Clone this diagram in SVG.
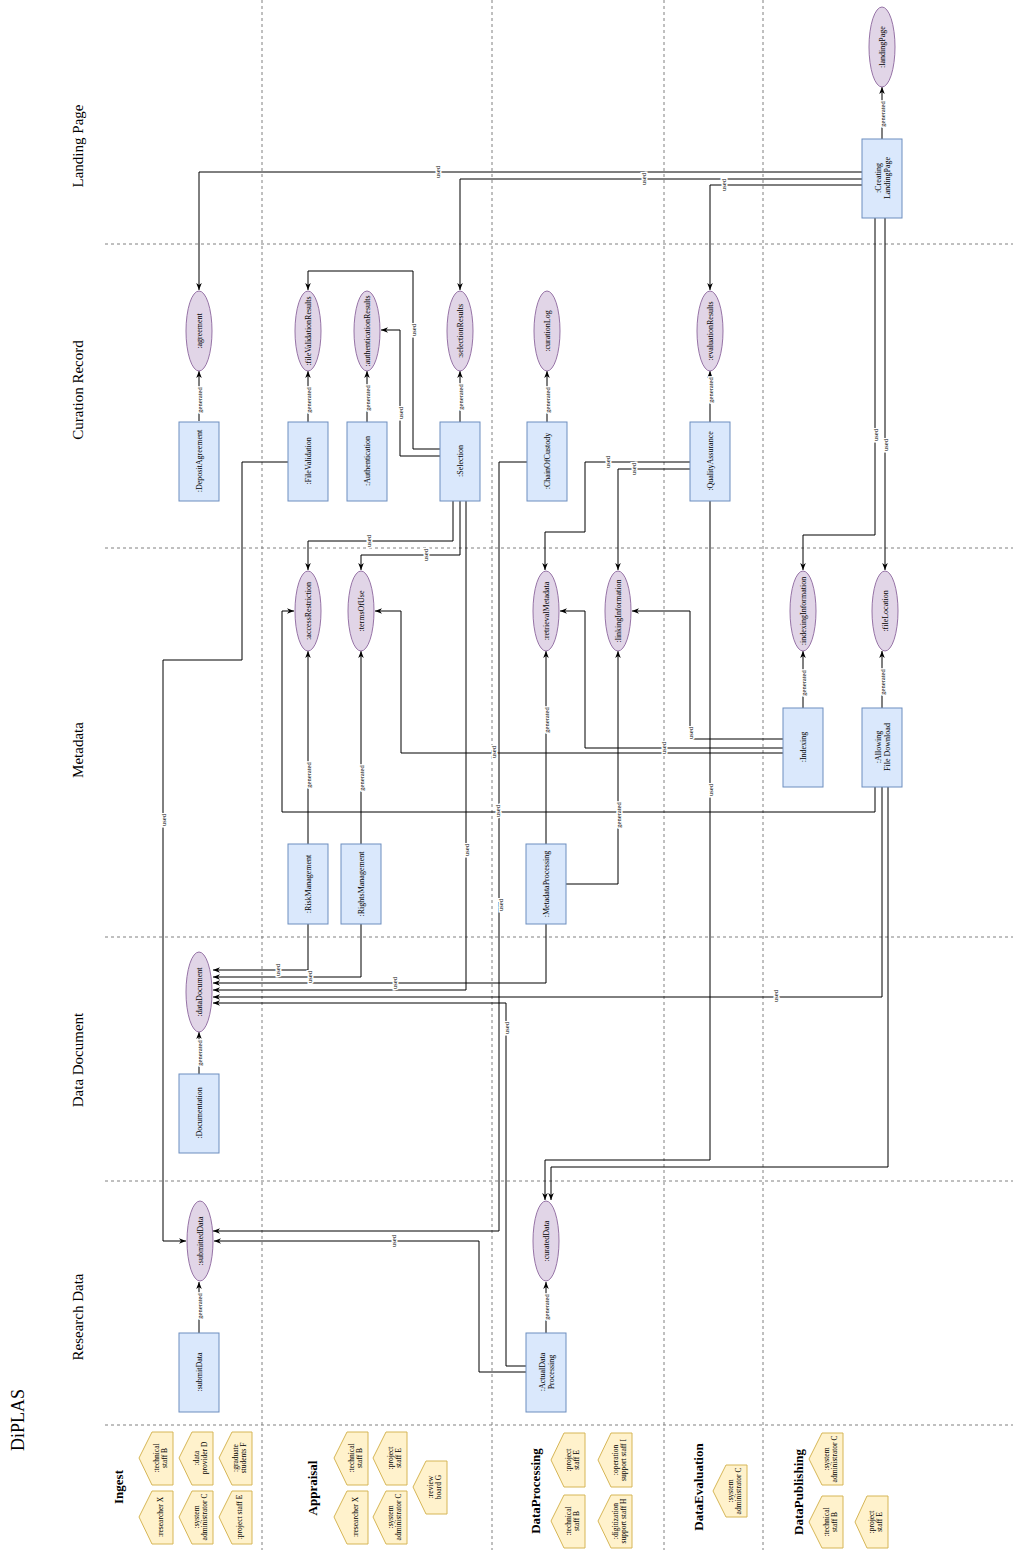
<svg xmlns="http://www.w3.org/2000/svg" width="1013" height="1550" viewBox="0 0 1013 1550">
<style>
text{font-family:"Liberation Serif","Times New Roman",serif;fill:#000}
.sep{stroke:#808080;stroke-width:1;stroke-dasharray:3 3;fill:none}
.proc rect{fill:#dae8fc;stroke:#6c8ebf;stroke-width:1}
.ent ellipse{fill:#e1d5e7;stroke:#9673a6;stroke-width:1}
.act polygon{fill:#fff2cc;stroke:#d6b656;stroke-width:1}
.nt{font-size:8px;text-anchor:middle;dominant-baseline:central}
.at{font-size:7.5px;text-anchor:middle;dominant-baseline:central}
.lane{font-size:15px;text-anchor:middle;dominant-baseline:central}
.role{font-size:13px;font-weight:bold;text-anchor:middle;dominant-baseline:central}
.e{fill:none;stroke:#000;stroke-width:1;marker-end:url(#arr)}
.el{font-size:6.5px;text-anchor:middle;dominant-baseline:central;paint-order:stroke;stroke:#fff;stroke-width:3px}
</style>
<defs>
<marker id="arr" viewBox="0 0 10 10" refX="10" refY="5" markerWidth="7" markerHeight="7" markerUnits="userSpaceOnUse" orient="auto">
<path d="M0,1 L10,5 L0,9 L3,5 z" fill="#000"/>
</marker>
</defs>
<rect width="1013" height="1550" fill="#fff"/>

<g id="separators">
<line class="sep" x1="262" y1="0" x2="262" y2="1550"/>
<line class="sep" x1="492" y1="0" x2="492" y2="1550"/>
<line class="sep" x1="664" y1="0" x2="664" y2="1550"/>
<line class="sep" x1="763" y1="0" x2="763" y2="1550"/>
<line class="sep" x1="105" y1="244" x2="1013" y2="244"/>
<line class="sep" x1="105" y1="548" x2="1013" y2="548"/>
<line class="sep" x1="105" y1="937" x2="1013" y2="937"/>
<line class="sep" x1="105" y1="1181" x2="1013" y2="1181"/>
<line class="sep" x1="105" y1="1425" x2="1013" y2="1425"/>
</g>

<g id="labels">
<text class="lane" transform="translate(18 1420) rotate(-90)" style="font-size:18px">DiPLAS</text>
<text class="lane" transform="translate(78 146) rotate(-90)">Landing Page</text>
<text class="lane" transform="translate(78 390) rotate(-90)">Curation Record</text>
<text class="lane" transform="translate(78 750) rotate(-90)">Metadata</text>
<text class="lane" transform="translate(78 1060) rotate(-90)">Data Document</text>
<text class="lane" transform="translate(78 1317) rotate(-90)">Research Data</text>
<text class="role" transform="translate(118 1487) rotate(-90)">Ingest</text>
<text class="role" transform="translate(312 1488) rotate(-90)">Appraisal</text>
<text class="role" transform="translate(535 1491) rotate(-90)">DataProcessing</text>
<text class="role" transform="translate(698 1487) rotate(-90)">DataEvaluation</text>
<text class="role" transform="translate(798 1492) rotate(-90)">DataPublishing</text>
</g>

<g id="connectors">
<!-- generated -->
<polyline class="e" points="199,421 199,371"/>
<polyline class="e" points="308,422 308,371"/>
<polyline class="e" points="367,422 367,371"/>
<polyline class="e" points="460,422 460,371"/>
<polyline class="e" points="547,422 547,371"/>
<polyline class="e" points="710,422 710,371"/>
<polyline class="e" points="882,139 882,87"/>
<polyline class="e" points="308,844 308,651"/>
<polyline class="e" points="361,844 361,651"/>
<polyline class="e" points="546,844 546,651"/>
<polyline class="e" points="566,884 618,884 618,651"/>
<polyline class="e" points="803,708 803,651"/>
<polyline class="e" points="882,708 882,651"/>
<polyline class="e" points="199,1074 199,1032"/>
<polyline class="e" points="199,1333 199,1282"/>
<polyline class="e" points="546,1333 546,1282"/>
<!-- used -->
<polyline class="e" points="862,172 199,172 199,290"/>
<polyline class="e" points="862,179 460,179 460,290"/>
<polyline class="e" points="862,185 710,185 710,290"/>
<polyline class="e" points="875,218 875,535 803,535 803,570"/>
<polyline class="e" points="885,218 885,570"/>
<polyline class="e" points="440,449 413,449 413,271 308,271 308,290"/>
<polyline class="e" points="440,456 400,456 400,330 381,330"/>
<polyline class="e" points="453,501 453,541 308,541 308,570"/>
<polyline class="e" points="460,501 460,555 361,555 361,570"/>
<polyline class="e" points="466,501 466,990 213,990"/>
<polyline class="e" points="288,462 242,462 242,660 163,660 163,1241 186,1241"/>
<polyline class="e" points="527,462 499,462 499,1231 213,1231"/>
<polyline class="e" points="690,462 585,462 585,532 545,532 545,570"/>
<polyline class="e" points="690,469 618,469 618,570"/>
<polyline class="e" points="710,501 710,1160 545,1160 545,1200"/>
<polyline class="e" points="783,739 690,739 690,611 632,611"/>
<polyline class="e" points="783,748 585,748 585,611 560,611"/>
<polyline class="e" points="783,753 401,753 401,611 375,611"/>
<polyline class="e" points="875,787 875,812 282,812 282,611 294,611"/>
<polyline class="e" points="882,787 882,997 213,997"/>
<polyline class="e" points="888,787 888,1167 551,1167 551,1200"/>
<polyline class="e" points="308,924 308,970 213,970"/>
<polyline class="e" points="361,924 361,977 213,977"/>
<polyline class="e" points="546,924 546,983 213,983"/>
<polyline class="e" points="526,1366 506,1366 506,1003 213,1003"/>
<polyline class="e" points="526,1372 479,1372 479,1241 214,1241"/>
<!-- edge labels -->
<text class="el" transform="translate(199 400) rotate(-90)">generated</text>
<text class="el" transform="translate(308 400) rotate(-90)">generated</text>
<text class="el" transform="translate(367 398) rotate(-90)">generated</text>
<text class="el" transform="translate(460 397) rotate(-90)">generated</text>
<text class="el" transform="translate(547 400) rotate(-90)">generated</text>
<text class="el" transform="translate(710 390) rotate(-90)">generated</text>
<text class="el" transform="translate(882 114) rotate(-90)">generated</text>
<text class="el" transform="translate(308 775) rotate(-90)">generated</text>
<text class="el" transform="translate(361 778) rotate(-90)">generated</text>
<text class="el" transform="translate(546 720) rotate(-90)">generated</text>
<text class="el" transform="translate(618 815) rotate(-90)">generated</text>
<text class="el" transform="translate(803 683) rotate(-90)">generated</text>
<text class="el" transform="translate(882 682) rotate(-90)">generated</text>
<text class="el" transform="translate(199 1053) rotate(-90)">generated</text>
<text class="el" transform="translate(199 1306) rotate(-90)">generated</text>
<text class="el" transform="translate(546 1307) rotate(-90)">generated</text>
<text class="el" transform="translate(437 172) rotate(-90)">used</text>
<text class="el" transform="translate(643 179) rotate(-90)">used</text>
<text class="el" transform="translate(723 185) rotate(-90)">used</text>
<text class="el" transform="translate(875 435) rotate(-90)">used</text>
<text class="el" transform="translate(885 445) rotate(-90)">used</text>
<text class="el" transform="translate(413 330) rotate(-90)">used</text>
<text class="el" transform="translate(400 413) rotate(-90)">used</text>
<text class="el" transform="translate(368 541) rotate(-90)">used</text>
<text class="el" transform="translate(425 555) rotate(-90)">used</text>
<text class="el" transform="translate(466 850) rotate(-90)">used</text>
<text class="el" transform="translate(163 820) rotate(-90)">used</text>
<text class="el" transform="translate(500 905) rotate(-90)">used</text>
<text class="el" transform="translate(607 462) rotate(-90)">used</text>
<text class="el" transform="translate(633 469) rotate(-90)">used</text>
<text class="el" transform="translate(710 790) rotate(-90)">used</text>
<text class="el" transform="translate(690 733) rotate(-90)">used</text>
<text class="el" transform="translate(663 748) rotate(-90)">used</text>
<text class="el" transform="translate(493 752) rotate(-90)">used</text>
<text class="el" transform="translate(497 811) rotate(-90)">used</text>
<text class="el" transform="translate(775 996) rotate(-90)">used</text>
<text class="el" transform="translate(277 970) rotate(-90)">used</text>
<text class="el" transform="translate(309 977) rotate(-90)">used</text>
<text class="el" transform="translate(394 983) rotate(-90)">used</text>
<text class="el" transform="translate(506 1028) rotate(-90)">used</text>
<text class="el" transform="translate(393 1241) rotate(-90)">used</text>
</g>

<!-- process nodes -->
<g id="DepositAgreement" class="proc"><rect x="179" y="422" width="40" height="79"/><text class="nt" transform="translate(199 461) rotate(-90)">:DepositAgreement</text></g>
<g id="FileValidation" class="proc"><rect x="288" y="422" width="40" height="79"/><text class="nt" transform="translate(308 461) rotate(-90)">:FileValidation</text></g>
<g id="Authentication" class="proc"><rect x="347" y="422" width="40" height="79"/><text class="nt" transform="translate(367 461) rotate(-90)">:Authentication</text></g>
<g id="Selection" class="proc"><rect x="440" y="422" width="40" height="79"/><text class="nt" transform="translate(460 461) rotate(-90)">:Selection</text></g>
<g id="ChainOfCustody" class="proc"><rect x="527" y="422" width="40" height="79"/><text class="nt" transform="translate(547 461) rotate(-90)">:ChainOfCustody</text></g>
<g id="QualityAssurance" class="proc"><rect x="690" y="422" width="40" height="79"/><text class="nt" transform="translate(710 461) rotate(-90)">:QualityAssurance</text></g>
<g id="CreatingLandingPage" class="proc"><rect x="862" y="139" width="40" height="79"/><text class="nt" transform="translate(882 178) rotate(-90)"><tspan x="0" dy="-4.5">:Creating</tspan><tspan x="0" dy="9">LandingPage</tspan></text></g>
<g id="RiskManagement" class="proc"><rect x="288" y="844" width="40" height="80"/><text class="nt" transform="translate(308 884) rotate(-90)">:RiskManagement</text></g>
<g id="RightsManagement" class="proc"><rect x="341" y="844" width="40" height="80"/><text class="nt" transform="translate(361 884) rotate(-90)">:RightsManagement</text></g>
<g id="MetadataProcessing" class="proc"><rect x="526" y="844" width="40" height="80"/><text class="nt" transform="translate(546 884) rotate(-90)">:MetadataProcessing</text></g>
<g id="Indexing" class="proc"><rect x="783" y="708" width="40" height="79"/><text class="nt" transform="translate(803 747) rotate(-90)">:Indexing</text></g>
<g id="AllowingFileDownload" class="proc"><rect x="862" y="708" width="40" height="79"/><text class="nt" transform="translate(882 747) rotate(-90)"><tspan x="0" dy="-4.5">:Allowing</tspan><tspan x="0" dy="9">File Download</tspan></text></g>
<g id="Documentation" class="proc"><rect x="179" y="1074" width="40" height="79"/><text class="nt" transform="translate(199 1113) rotate(-90)">:Documentation</text></g>
<g id="submitData" class="proc"><rect x="179" y="1333" width="40" height="79"/><text class="nt" transform="translate(199 1372) rotate(-90)">:submitData</text></g>
<g id="ActualDataProcessing" class="proc"><rect x="526" y="1333" width="40" height="79"/><text class="nt" transform="translate(546 1372) rotate(-90)"><tspan x="0" dy="-4.5">:ActualData</tspan><tspan x="0" dy="9">Processing</tspan></text></g>

<!-- entity nodes -->
<g id="agreement" class="ent"><ellipse cx="199" cy="331" rx="13" ry="40"/><text class="nt" transform="translate(199 331) rotate(-90)">:agreement</text></g>
<g id="fileValidationResults" class="ent"><ellipse cx="308" cy="331" rx="13" ry="40"/><text class="nt" transform="translate(308 331) rotate(-90)">:fileValidationResults</text></g>
<g id="authenticationResults" class="ent"><ellipse cx="367" cy="331" rx="13" ry="40"/><text class="nt" transform="translate(367 331) rotate(-90)">:authenticationResults</text></g>
<g id="selectionResults" class="ent"><ellipse cx="460" cy="331" rx="13" ry="40"/><text class="nt" transform="translate(460 331) rotate(-90)">:selectionResults</text></g>
<g id="curationLog" class="ent"><ellipse cx="547" cy="331" rx="13" ry="40"/><text class="nt" transform="translate(547 331) rotate(-90)">:curationLog</text></g>
<g id="evaluationResults" class="ent"><ellipse cx="710" cy="331" rx="13" ry="40"/><text class="nt" transform="translate(710 331) rotate(-90)">:evaluationResults</text></g>
<g id="landingPage" class="ent"><ellipse cx="882" cy="47" rx="13" ry="40"/><text class="nt" transform="translate(882 47) rotate(-90)">:landingPage</text></g>
<g id="accessRestriction" class="ent"><ellipse cx="308" cy="611" rx="13" ry="40"/><text class="nt" transform="translate(308 611) rotate(-90)">:accessRestriction</text></g>
<g id="termsOfUse" class="ent"><ellipse cx="361" cy="611" rx="13" ry="40"/><text class="nt" transform="translate(361 611) rotate(-90)">:termsOfUse</text></g>
<g id="retrievalMetadata" class="ent"><ellipse cx="546" cy="611" rx="13" ry="40"/><text class="nt" transform="translate(546 611) rotate(-90)">:retrievalMetadata</text></g>
<g id="linkingInformation" class="ent"><ellipse cx="618" cy="611" rx="13" ry="40"/><text class="nt" transform="translate(618 611) rotate(-90)">:linkingInformation</text></g>
<g id="indexingInformation" class="ent"><ellipse cx="803" cy="611" rx="13" ry="40"/><text class="nt" transform="translate(803 611) rotate(-90)">:indexingInformation</text></g>
<g id="fileLocation" class="ent"><ellipse cx="885" cy="611" rx="13" ry="40"/><text class="nt" transform="translate(885 611) rotate(-90)">:fileLocation</text></g>
<g id="dataDocument" class="ent"><ellipse cx="199" cy="992" rx="13" ry="40"/><text class="nt" transform="translate(199 992) rotate(-90)">:dataDocument</text></g>
<g id="submittedData" class="ent"><ellipse cx="200" cy="1241" rx="13" ry="40"/><text class="nt" transform="translate(200 1241) rotate(-90)">:submittedData</text></g>
<g id="curatedData" class="ent"><ellipse cx="546" cy="1241" rx="13" ry="40"/><text class="nt" transform="translate(546 1241) rotate(-90)">:curatedData</text></g>

<!-- actors -->
<g id="ing_technical" class="act"><polygon points="173,1432 152,1432 139,1458 152,1485 173,1485"/><text class="at" transform="translate(160 1458) rotate(-90)"><tspan x="0" dy="-4">:technical</tspan><tspan x="0" dy="8">staff B</tspan></text></g>
<g id="ing_data" class="act"><polygon points="213,1432 192,1432 179,1458 192,1485 213,1485"/><text class="at" transform="translate(200 1458) rotate(-90)"><tspan x="0" dy="-4">:data</tspan><tspan x="0" dy="8">provider D</tspan></text></g>
<g id="ing_graduate" class="act"><polygon points="252,1432 232,1432 219,1458 232,1485 252,1485"/><text class="at" transform="translate(239 1458) rotate(-90)"><tspan x="0" dy="-4">:graduate</tspan><tspan x="0" dy="8">students F</tspan></text></g>
<g id="ing_researcher" class="act"><polygon points="173,1491 152,1491 139,1517 152,1544 173,1544"/><text class="at" transform="translate(160 1517) rotate(-90)">:researcher X</text></g>
<g id="ing_system" class="act"><polygon points="213,1491 192,1491 179,1517 192,1544 213,1544"/><text class="at" transform="translate(200 1517) rotate(-90)"><tspan x="0" dy="-4">:system</tspan><tspan x="0" dy="8">administrator C</tspan></text></g>
<g id="ing_project" class="act"><polygon points="252,1491 232,1491 219,1517 232,1544 252,1544"/><text class="at" transform="translate(239 1517) rotate(-90)">:project staff E</text></g>

<g id="app_technical" class="act"><polygon points="368,1432 347,1432 334,1458 347,1485 368,1485"/><text class="at" transform="translate(355 1458) rotate(-90)"><tspan x="0" dy="-4">:technical</tspan><tspan x="0" dy="8">staff B</tspan></text></g>
<g id="app_project" class="act"><polygon points="407,1432 386,1432 373,1458 386,1485 407,1485"/><text class="at" transform="translate(394 1458) rotate(-90)"><tspan x="0" dy="-4">:project</tspan><tspan x="0" dy="8">staff E</tspan></text></g>
<g id="app_researcher" class="act"><polygon points="368,1491 347,1491 334,1517 347,1544 368,1544"/><text class="at" transform="translate(355 1517) rotate(-90)">:researcher X</text></g>
<g id="app_system" class="act"><polygon points="407,1491 386,1491 373,1517 386,1544 407,1544"/><text class="at" transform="translate(394 1517) rotate(-90)"><tspan x="0" dy="-4">:system</tspan><tspan x="0" dy="8">administrator C</tspan></text></g>
<g id="app_review" class="act"><polygon points="447,1461 426,1461 413,1487 426,1514 447,1514"/><text class="at" transform="translate(434 1487) rotate(-90)"><tspan x="0" dy="-4">:review</tspan><tspan x="0" dy="8">board G</tspan></text></g>

<g id="dp_project" class="act"><polygon points="585,1433 564,1433 551,1460 564,1487 585,1487"/><text class="at" transform="translate(572 1460) rotate(-90)"><tspan x="0" dy="-4">:project</tspan><tspan x="0" dy="8">staff E</tspan></text></g>
<g id="dp_technical" class="act"><polygon points="585,1495 564,1495 551,1521 564,1548 585,1548"/><text class="at" transform="translate(572 1521) rotate(-90)"><tspan x="0" dy="-4">:technical</tspan><tspan x="0" dy="8">staff B</tspan></text></g>
<g id="dp_operation" class="act"><polygon points="632,1433 611,1433 598,1460 611,1487 632,1487"/><text class="at" transform="translate(619 1460) rotate(-90)"><tspan x="0" dy="-4">:operation</tspan><tspan x="0" dy="8">support staff I</tspan></text></g>
<g id="dp_digitization" class="act"><polygon points="632,1495 611,1495 598,1521 611,1548 632,1548"/><text class="at" transform="translate(619 1521) rotate(-90)"><tspan x="0" dy="-4">:digitization</tspan><tspan x="0" dy="8">support staff H</tspan></text></g>

<g id="de_system" class="act"><polygon points="747,1465 726,1465 713,1491 726,1517 747,1517"/><text class="at" transform="translate(734 1491) rotate(-90)"><tspan x="0" dy="-4">:system</tspan><tspan x="0" dy="8">administrator C</tspan></text></g>

<g id="pub_system" class="act"><polygon points="843,1433 822,1433 809,1459 822,1485 843,1485"/><text class="at" transform="translate(830 1459) rotate(-90)"><tspan x="0" dy="-4">:system</tspan><tspan x="0" dy="8">administrator C</tspan></text></g>
<g id="pub_technical" class="act"><polygon points="843,1496 822,1496 809,1522 822,1548 843,1548"/><text class="at" transform="translate(830 1522) rotate(-90)"><tspan x="0" dy="-4">:technical</tspan><tspan x="0" dy="8">staff B</tspan></text></g>
<g id="pub_project" class="act"><polygon points="888,1496 867,1496 855,1522 867,1548 888,1548"/><text class="at" transform="translate(875 1522) rotate(-90)"><tspan x="0" dy="-4">:project</tspan><tspan x="0" dy="8">staff E</tspan></text></g>
</svg>
